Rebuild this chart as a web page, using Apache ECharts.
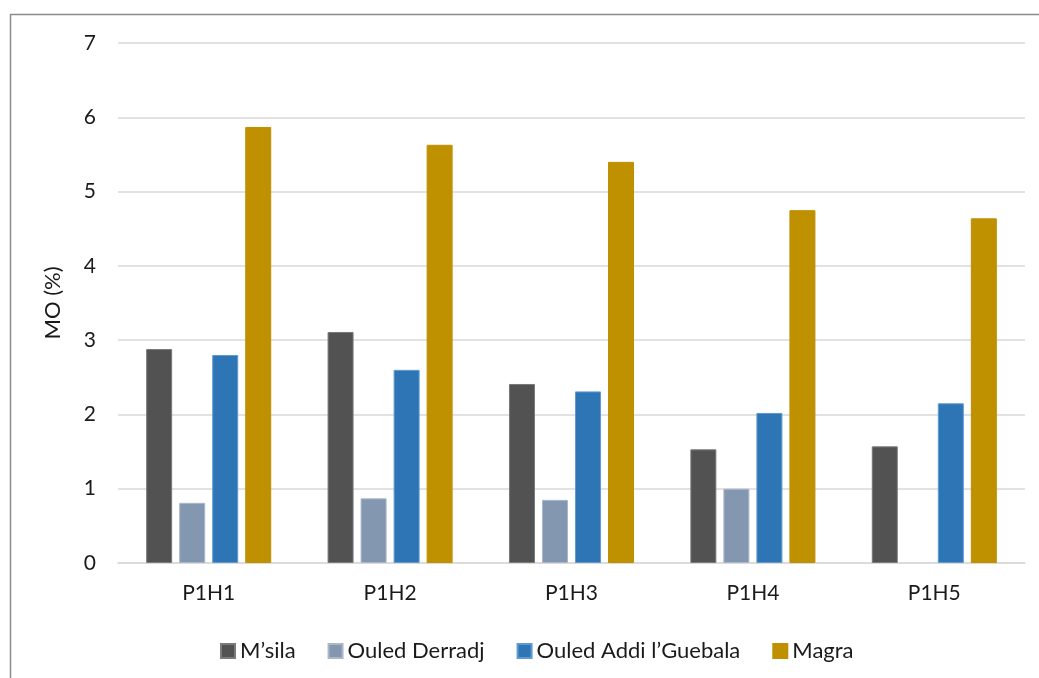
<!DOCTYPE html>
<html>
<head>
<meta charset="utf-8">
<script src="https://cdn.jsdelivr.net/npm/echarts@6/dist/echarts.min.js"></script>
<style>
html,body{margin:0;padding:0;background:#fff;}
#c{width:1039px;height:678px;}
</style>
</head>
<body>
<div id="c"></div>
<script>
const categories = ['P1H1', 'P1H2', 'P1H3', 'P1H4', 'P1H5'];
const msila = [2.88, 3.11, 2.41, 1.53, 1.57];
const ouledDerradj = [0.81, 0.87, 0.85, 1.00, null];
const ouledAddi = [2.80, 2.60, 2.31, 2.02, 2.15];
const magra = [5.87, 5.63, 5.40, 4.75, 4.64];
const seriesNames = ['M\u2019sila', 'Ouled Derradj', 'Ouled Addi l\u2019Guebala', 'Magra'];
const yTicks = [0, 1, 2, 3, 4, 5, 6, 7];

const colors = ['#525252', '#8497B0', '#2E75B6', '#BF9000'];
const borders = ['#7a7a7a', '#a9b7ca', '#5f9ad0', '#BF9000'];
const font = 'Lato, "Open Sans", sans-serif';
const data = [msila, ouledDerradj, ouledAddi, magra];

const chart = echarts.init(document.getElementById('c'), null, {renderer: 'canvas'});
chart.setOption({
  animation: false,
  color: colors,
  graphic: [{
    type: 'rect',
    shape: {x: 10.5, y: 14.5, width: 1100, height: 800},
    style: {fill: 'none', stroke: '#8c8c8c', lineWidth: 1.5},
    silent: true
  }],
  grid: {left: 118, right: 14, top: 43, bottom: 115, containLabel: false},
  legend: {
    left: 215, top: 635,
    itemWidth: 14, itemHeight: 14, itemGap: 32,
    icon: 'rect',
    textStyle: {fontFamily: font, fontSize: 22, color: '#1a1a1a'},
    data: seriesNames
  },
  xAxis: {
    type: 'category',
    data: categories,
    axisLine: {lineStyle: {color: '#d9d9d9', width: 1.5}},
    axisTick: {show: false},
    axisLabel: {fontFamily: font, fontSize: 21, color: '#1a1a1a', margin: 20}
  },
  yAxis: {
    type: 'value',
    min: yTicks[0], max: yTicks[yTicks.length - 1], interval: 1,
    name: 'MO (%)',
    nameLocation: 'middle',
    nameGap: 54,
    nameRotate: 90,
    nameTextStyle: {fontFamily: font, fontSize: 22, color: '#1a1a1a'},
    axisLine: {show: false},
    axisTick: {show: false},
    splitLine: {lineStyle: {color: '#d9d9d9', width: 1.5}},
    axisLabel: {fontFamily: font, fontSize: 21, color: '#1a1a1a', margin: 22}
  },
  series: data.map((d, i) => ({
    name: seriesNames[i],
    type: 'bar',
    data: d,
    barWidth: 26,
    barGap: '27%',
    itemStyle: {color: colors[i], borderColor: borders[i], borderWidth: 1}
  }))
});
</script>
</body>
</html>
